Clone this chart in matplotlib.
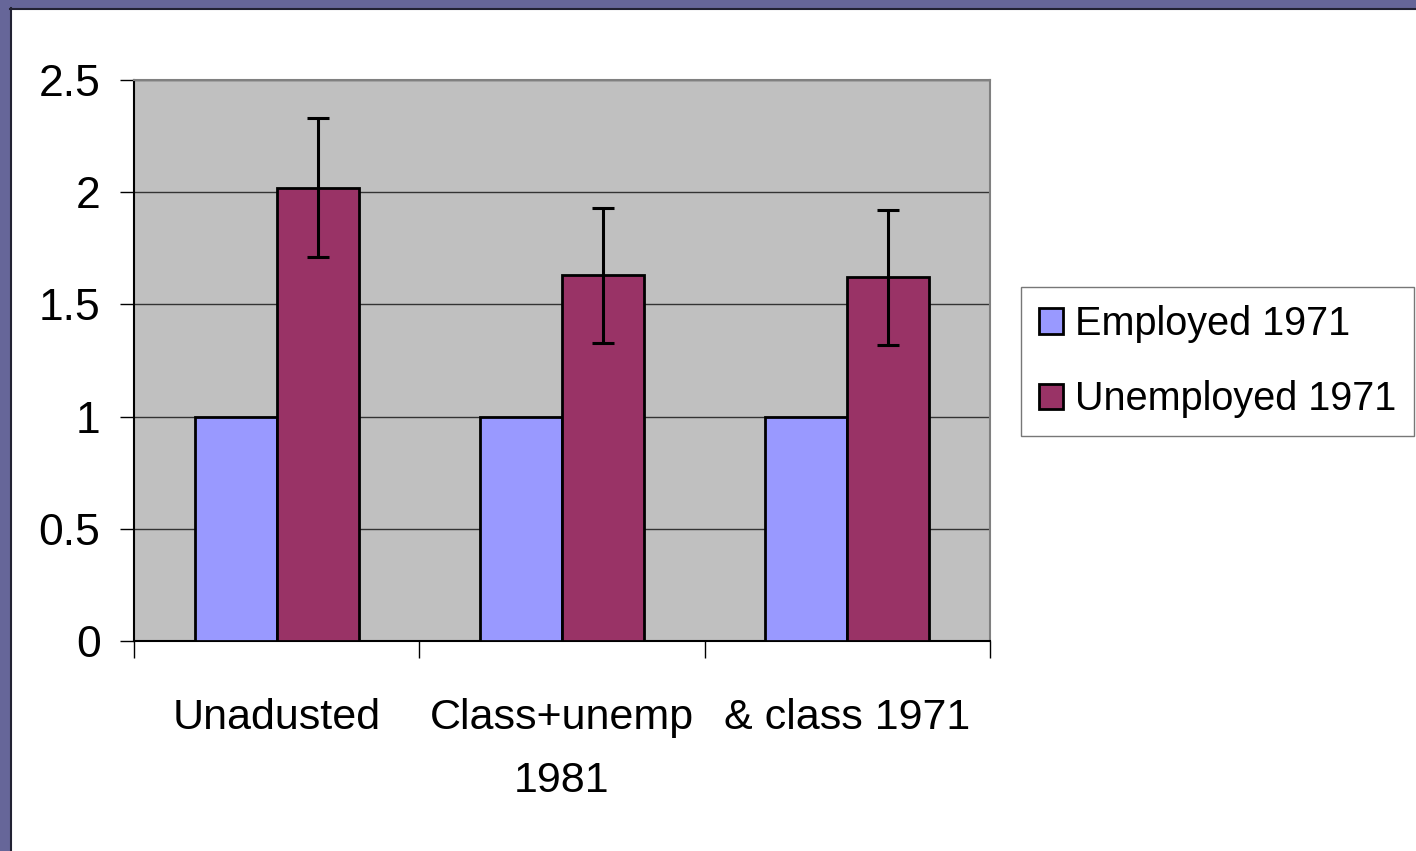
import matplotlib.pyplot as plt
import matplotlib.patches as mpatches
import numpy as np

# Data
categories = ["Unadusted", "Class+unemp\n1981", "& class 1971"]
employed = [1.0, 1.0, 1.0]
unemployed = [2.02, 1.63, 1.62]
unemployed_err = [0.31, 0.30, 0.30]
series_names = ["Employed 1971", "Unemployed 1971"]

plt.rcParams['font.family'] = ['Liberation Sans', 'DejaVu Sans']

fig = plt.figure(figsize=(14.16, 8.51), dpi=100)

# slide-style border on top and left
fig.patches.append(mpatches.Rectangle((0, 1 - 8 / 851), 1, 8 / 851, transform=fig.transFigure,
                                      facecolor='#666699', edgecolor='none', zorder=0))
fig.patches.append(mpatches.Rectangle((0, 0), 10 / 1416, 1, transform=fig.transFigure,
                                      facecolor='#666699', edgecolor='none', zorder=0))
fig.add_artist(plt.Line2D([10 / 1416, 1], [1 - 8.5 / 851, 1 - 8.5 / 851], transform=fig.transFigure,
                          color='#222233', lw=1.5))
fig.add_artist(plt.Line2D([10.5 / 1416, 10.5 / 1416], [0, 1 - 8 / 851], transform=fig.transFigure,
                          color='#222233', lw=1.5))

ax = fig.add_axes([0.0946, 0.2468, 0.6045, 0.6592])
ax.set_facecolor('#C0C0C0')

x = np.arange(len(categories))
w = 0.2875
ax.bar(x - w / 2, employed, w, color='#9999FF', edgecolor='black', linewidth=2,
       label=series_names[0], zorder=3)
ax.bar(x + w / 2, unemployed, w, color='#993366', edgecolor='black', linewidth=2,
       label=series_names[1], zorder=3)
ax.errorbar(x + w / 2, unemployed, yerr=unemployed_err, fmt='none', ecolor='black',
            elinewidth=2.2, capsize=8, capthick=2.2, zorder=4)

ax.set_xlim(-0.5, len(categories) - 0.5)
ax.set_ylim(0, 2.5)
ax.set_yticks(np.arange(0, 2.51, 0.5))
ax.set_yticklabels(['0', '0.5', '1', '1.5', '2', '2.5'])
ax.yaxis.grid(True, color='#333333', linewidth=1, zorder=1)
ax.set_axisbelow(True)

ax.set_xticks(x)
ax.set_xticklabels(categories, linespacing=1.75)
ax.set_xticks(np.arange(-0.5, len(categories)), minor=True)
ax.tick_params(axis='x', which='major', length=0, pad=41, labelsize=31)
ax.tick_params(axis='x', which='minor', length=12, width=1, direction='out', color='black')
ax.tick_params(axis='y', length=10, width=1, direction='out', pad=14, labelsize=32,
               color='black')

for s in ['top', 'right']:
    ax.spines[s].set_color('#808080')
    ax.spines[s].set_linewidth(1.5)
for s in ['left', 'bottom']:
    ax.spines[s].set_color('black')
    ax.spines[s].set_linewidth(1.5)

leg = ax.legend(loc='center left', bbox_to_anchor=(1.036, 0.498), fontsize=28.5, frameon=True,
                fancybox=False, edgecolor='#555555', handlelength=0.62, handleheight=0.62,
                handletextpad=0.3, borderpad=0.45, labelspacing=0.95, borderaxespad=0)
leg.get_frame().set_linewidth(1)

fig.savefig('out.png', dpi=100, facecolor='white')
